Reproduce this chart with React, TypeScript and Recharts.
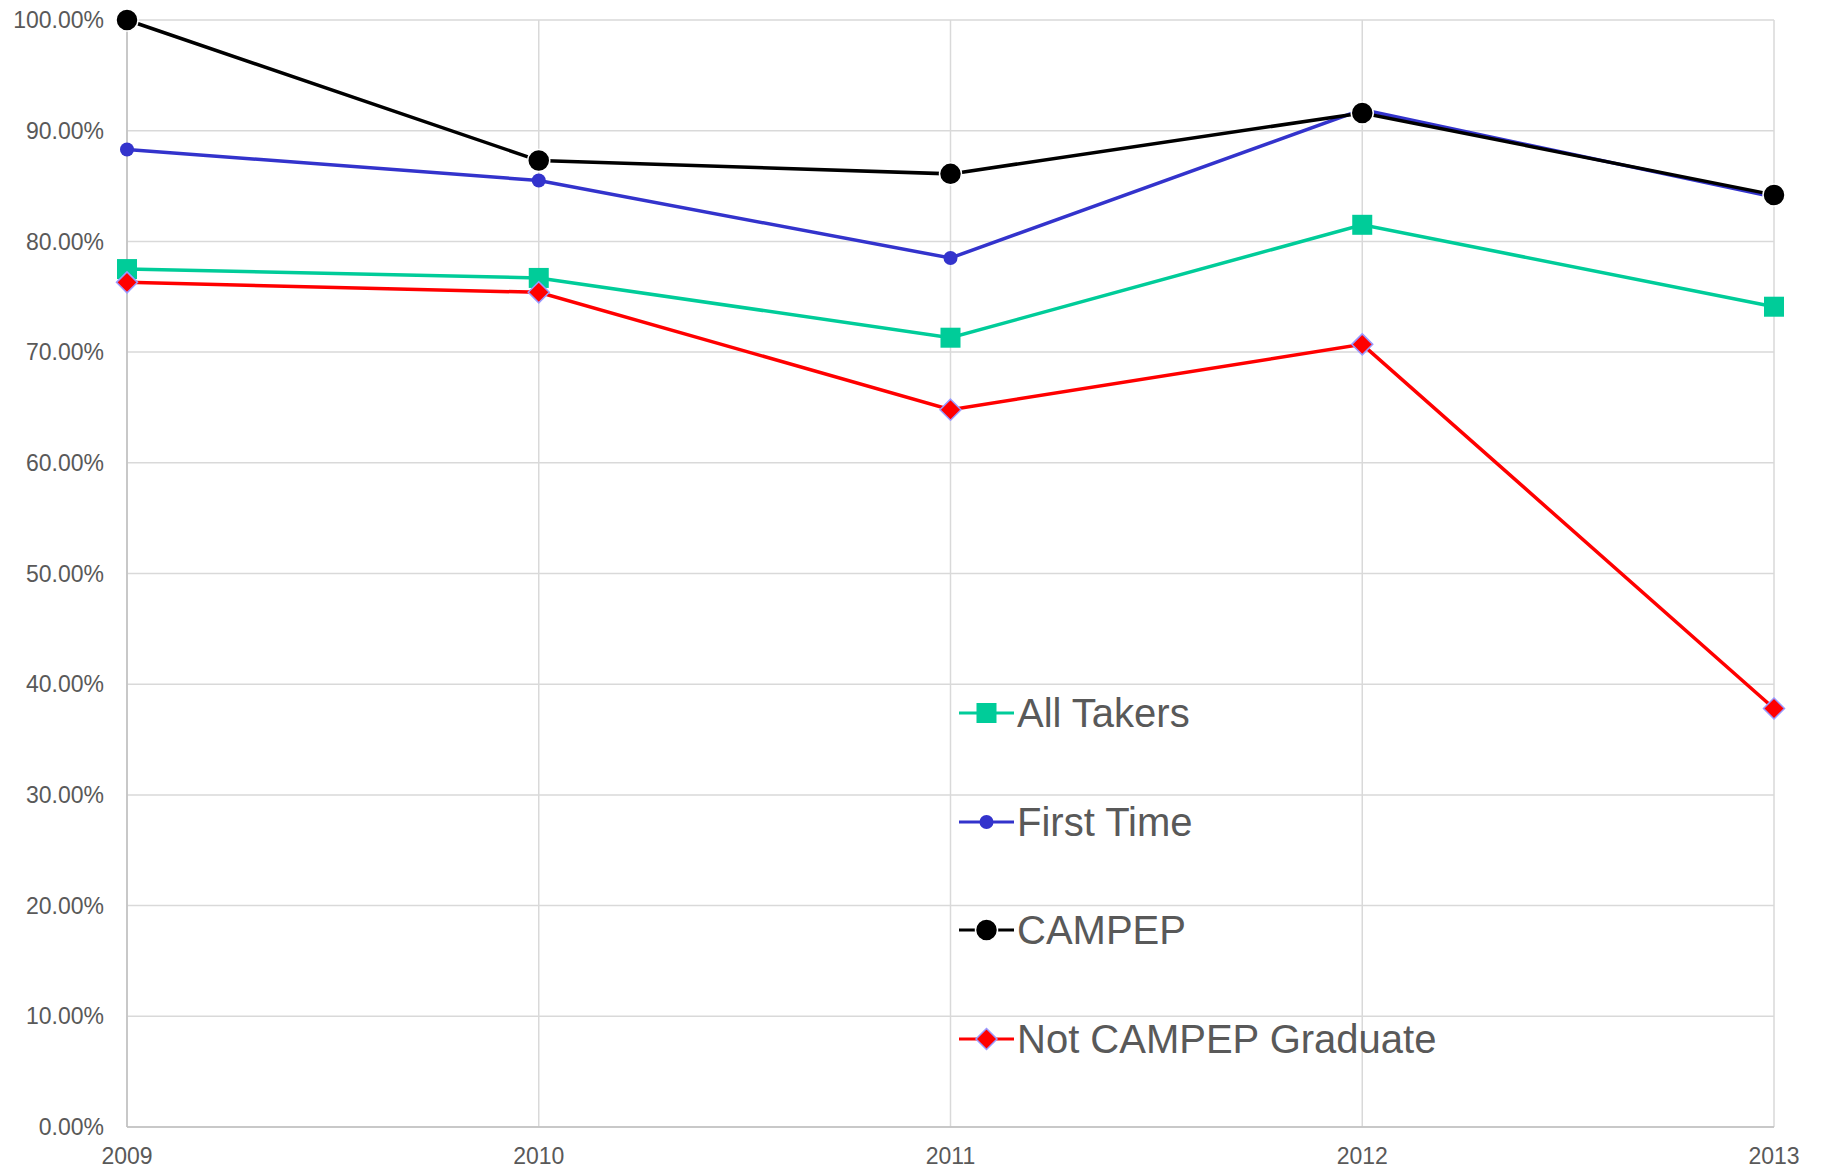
import React from "react";
import { CartesianGrid, Legend, Line, LineChart, XAxis, YAxis } from "recharts";

// values, in percent
const years = ["2009", "2010", "2011", "2012", "2013"];
const allTakers = [77.5, 76.7, 71.3, 81.5, 74.1];
const firstTime = [88.3, 85.5, 78.5, 91.9, 84.0];
const campep = [100, 87.3, 86.1, 91.6, 84.2];
const notCampep = [76.3, 75.4, 64.8, 70.7, 37.8];
const yTicks = [0, 10, 20, 30, 40, 50, 60, 70, 80, 90, 100];

const data = years.map((year, i) => ({
  year,
  allTakers: allTakers[i],
  firstTime: firstTime[i],
  campep: campep[i],
  notCampep: notCampep[i],
}));

const FONT = "'Liberation Sans', Arial, sans-serif";
const GREEN = "#00CC99";
const BLUE = "#3333CC";
const BLACK = "#000000";
const RED = "#FF0000";
const LAVENDER = "#9999FF";

type Shape = "square" | "circle" | "big" | "diamond";

const Marker = ({ shape, cx, cy }: { shape: Shape; cx: number; cy: number }) => {
  if (shape === "square") {
    return <rect x={cx - 10} y={cy - 10} width={20} height={20} fill={GREEN} />;
  }
  if (shape === "circle") {
    return <circle cx={cx} cy={cy} r={7} fill={BLUE} />;
  }
  if (shape === "big") {
    return <circle cx={cx} cy={cy} r={11} fill={BLACK} stroke="#ffffff" strokeWidth={1.5} />;
  }
  return (
    <path
      d={`M${cx},${cy - 10.5} L${cx + 10.5},${cy} L${cx},${cy + 10.5} L${cx - 10.5},${cy} Z`}
      fill={RED}
      stroke={LAVENDER}
      strokeWidth={1.5}
    />
  );
};

const dotFor = (shape: Shape) => (props: any) => {
  const { cx, cy, index } = props;
  if (cx == null || cy == null) return <g key={`${shape}-${index}`} />;
  return (
    <g key={`${shape}-${index}`}>
      <Marker shape={shape} cx={cx} cy={cy} />
    </g>
  );
};

const series: { key: string; name: string; color: string; shape: Shape }[] = [
  { key: "allTakers", name: "All Takers", color: GREEN, shape: "square" },
  { key: "firstTime", name: "First Time", color: BLUE, shape: "circle" },
  { key: "campep", name: "CAMPEP", color: BLACK, shape: "big" },
  { key: "notCampep", name: "Not CAMPEP Graduate", color: RED, shape: "diamond" },
];

const LegendBox = () => (
  <div style={{ fontFamily: FONT }}>
    {series.map((s) => (
      <div key={s.key} style={{ display: "flex", alignItems: "center", height: 108.5 }}>
        <svg width={56} height={30} style={{ display: "block" }}>
          <line x1={0} y1={15} x2={55} y2={15} stroke={s.color} strokeWidth={3.2} />
          <Marker shape={s.shape} cx={27.5} cy={15} />
        </svg>
        <span
          style={{
            fontSize: 40,
            lineHeight: "40px",
            color: "#595959",
            whiteSpace: "nowrap",
            marginLeft: 2,
          }}
        >
          {s.name}
        </span>
      </div>
    ))}
  </div>
);

const tickStyle = { fill: "#595959", fontSize: 23, fontFamily: FONT };

export default function App() {
  return (
    <div style={{ width: 1808, height: 1164, background: "#ffffff" }}>
      <LineChart
        width={1808}
        height={1164}
        data={data}
        margin={{ top: 12, right: 42, bottom: 0, left: 0 }}
      >
        <CartesianGrid stroke="#d9d9d9" strokeWidth={1.5} />
        <XAxis
          dataKey="year"
          padding={{ left: 0, right: 0 }}
          interval={0}
          tickLine={false}
          tickSize={6}
          tickMargin={15}
          height={45}
          axisLine={{ stroke: "#bfbfbf", strokeWidth: 1.5 }}
          tick={tickStyle}
        />
        <YAxis
          domain={[0, 100]}
          ticks={yTicks}
          interval={0}
          width={119}
          tickLine={false}
          tickSize={6}
          tickMargin={17}
          axisLine={{ stroke: "#bfbfbf", strokeWidth: 1.5 }}
          tick={tickStyle}
          tickFormatter={(v: number) => `${v.toFixed(2)}%`}
        />
        <Legend
          layout="vertical"
          align="center"
          verticalAlign="middle"
          content={() => <LegendBox />}
          wrapperStyle={{ position: "absolute", left: 951, top: 651, width: 520, height: 434 }}
        />
        {series.map((s) => (
          <Line
            key={s.key}
            type="linear"
            dataKey={s.key}
            name={s.name}
            stroke={s.color}
            strokeWidth={3.5}
            dot={dotFor(s.shape)}
            activeDot={false}
            isAnimationActive={false}
          />
        ))}
      </LineChart>
    </div>
  );
}
